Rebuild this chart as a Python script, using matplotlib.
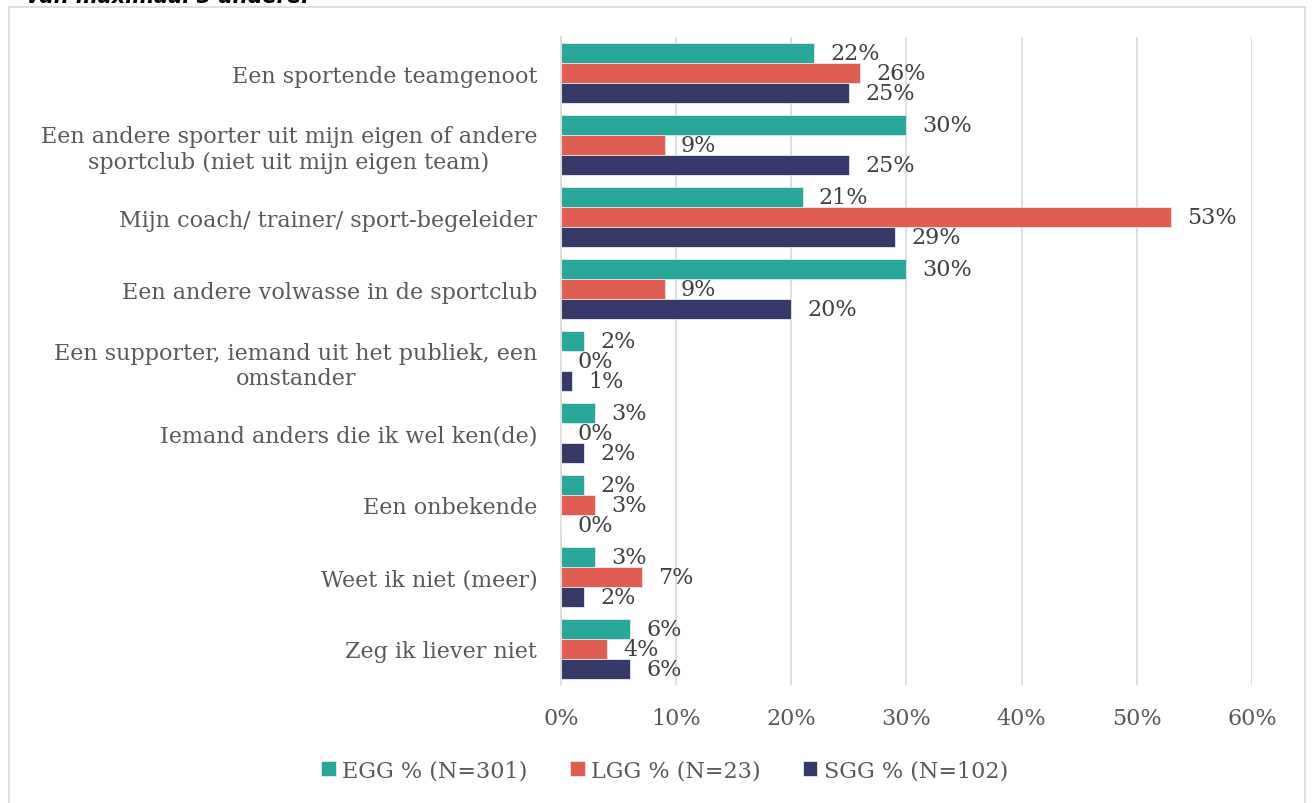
import matplotlib.pyplot as plt
import numpy as np
from matplotlib.patches import Rectangle

categories = [
    "Een sportende teamgenoot",
    "Een andere sporter uit mijn eigen of andere\nsportclub (niet uit mijn eigen team)",
    "Mijn coach/ trainer/ sport-begeleider",
    "Een andere volwasse in de sportclub",
    "Een supporter, iemand uit het publiek, een\nomstander",
    "Iemand anders die ik wel ken(de)",
    "Een onbekende",
    "Weet ik niet (meer)",
    "Zeg ik liever niet",
]
egg = [22, 30, 21, 30, 2, 3, 2, 3, 6]
lgg = [26, 9, 53, 9, 0, 0, 3, 7, 4]
sgg = [25, 25, 29, 20, 1, 2, 0, 2, 6]
series_names = ["EGG % (N=301)", "LGG % (N=23)", "SGG % (N=102)"]
colors = ["#2AA79B", "#E05D52", "#373A68"]

plt.rcParams['font.family'] = ['DejaVu Serif']
txt = "#595959"
fs = 16

fig = plt.figure(figsize=(13.14, 8.04), dpi=100)
ax = fig.add_axes([0.4269, 0.1468, 0.5259, 0.8059])

# outer frame + cut-off heading above it
fig.patches.append(Rectangle((9 / 1314, -0.01), 1296 / 1314, 1 - 8 / 804 + 0.01,
                             transform=fig.transFigure, fill=False,
                             edgecolor="#D9D9D9", linewidth=1.2))
fig.text(0.02, 1.004, "van maximaal 3 andere.", fontsize=15, fontweight="bold",
         fontstyle="italic", family="DejaVu Sans", color="black", va="center")

y = np.arange(len(categories))
h = 0.278
for i, (vals, name, c) in enumerate(zip([egg, lgg, sgg], series_names, colors)):
    pos = y + (i - 1) * h
    ax.barh(pos, vals, height=h, color=c, edgecolor="#E8E8E8", linewidth=0.6,
            label=name, zorder=3)
    for p, v in zip(pos, vals):
        ax.text(v + 1.4, p, f"{v}%", va="center", ha="left", fontsize=fs,
                color="#404040", zorder=4)

ax.set_ylim(len(categories) - 0.5, -0.5)
ax.set_xlim(0, 60)
ax.set_xticks(range(0, 61, 10))
ax.set_xticklabels([f"{t}%" for t in range(0, 61, 10)])
ax.set_yticks(y)
ax.set_yticklabels(categories, multialignment="center")
ax.tick_params(axis="both", length=0, labelsize=fs, labelcolor=txt)
ax.tick_params(axis="x", pad=16)
ax.tick_params(axis="y", pad=17)
ax.grid(axis="x", color="#D9D9D9", linewidth=1.2, zorder=0)
for s in ["top", "right", "bottom"]:
    ax.spines[s].set_visible(False)
ax.spines["left"].set_color("#D9D9D9")
ax.spines["left"].set_linewidth(1.2)

leg = fig.legend(loc="center", bbox_to_anchor=(0.506, 0.041), ncol=3, frameon=False,
                 fontsize=fs, handlelength=0.65, handleheight=0.65, handletextpad=0.3,
                 columnspacing=1.9)
for t in leg.get_texts():
    t.set_color(txt)

fig.savefig("out.png", dpi=100)
